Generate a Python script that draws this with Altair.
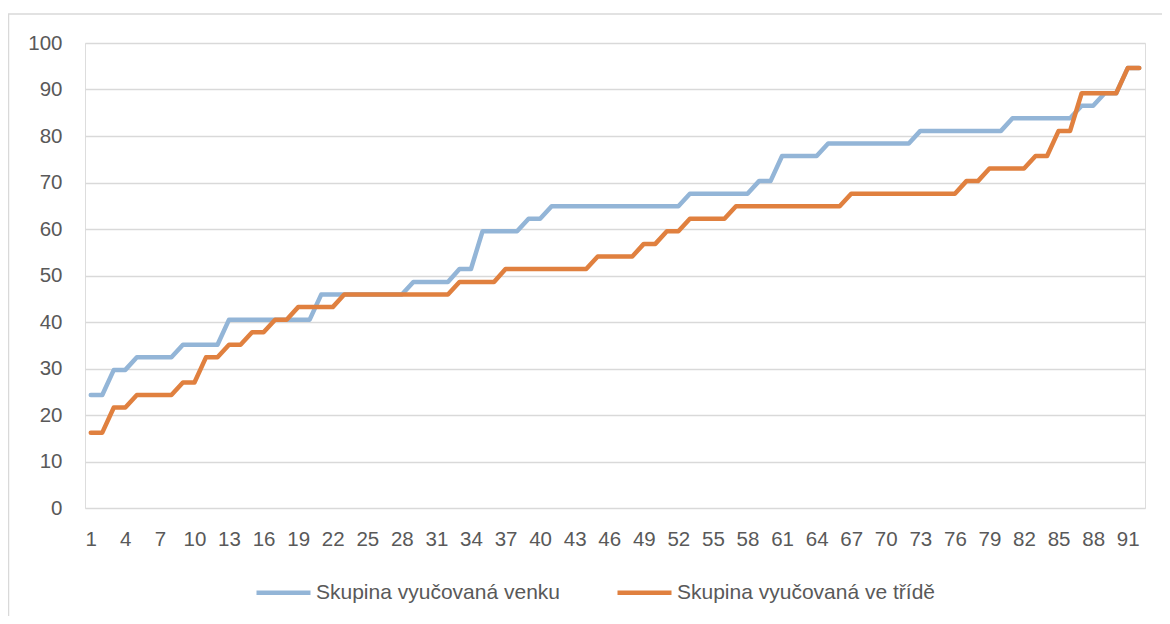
import altair as alt
import pandas as pd

categories = list(range(1, 93))
x_tick_labels = [1, 4, 7, 10, 13, 16, 19, 22, 25, 28, 31, 34, 37, 40, 43, 46,
                 49, 52, 55, 58, 61, 64, 67, 70, 73, 76, 79, 82, 85, 88, 91]
y_ticks = [0, 10, 20, 30, 40, 50, 60, 70, 80, 90, 100]

series_names = ["Skupina vyučovaná venku", "Skupina vyučovaná ve třídě"]
series_colors = ["#93B5D7", "#E0803F"]

venku = [
    24.3, 24.3, 29.7, 29.7, 32.4, 32.4, 32.4, 32.4, 35.1, 35.1,
    35.1, 35.1, 40.5, 40.5, 40.5, 40.5, 40.5, 40.5, 40.5, 40.5,
    45.9, 45.9, 45.9, 45.9, 45.9, 45.9, 45.9, 45.9, 48.6, 48.6,
    48.6, 48.6, 51.4, 51.4, 59.5, 59.5, 59.5, 59.5, 62.2, 62.2,
    64.9, 64.9, 64.9, 64.9, 64.9, 64.9, 64.9, 64.9, 64.9, 64.9,
    64.9, 64.9, 67.6, 67.6, 67.6, 67.6, 67.6, 67.6, 70.3, 70.3,
    75.7, 75.7, 75.7, 75.7, 78.4, 78.4, 78.4, 78.4, 78.4, 78.4,
    78.4, 78.4, 81.1, 81.1, 81.1, 81.1, 81.1, 81.1, 81.1, 81.1,
    83.8, 83.8, 83.8, 83.8, 83.8, 83.8, 86.5, 86.5, 89.2, 89.2,
    94.6, 94.6,
]

ve_tride = [
    16.2, 16.2, 21.6, 21.6, 24.3, 24.3, 24.3, 24.3, 27.0, 27.0,
    32.4, 32.4, 35.1, 35.1, 37.8, 37.8, 40.5, 40.5, 43.2, 43.2,
    43.2, 43.2, 45.9, 45.9, 45.9, 45.9, 45.9, 45.9, 45.9, 45.9,
    45.9, 45.9, 48.6, 48.6, 48.6, 48.6, 51.4, 51.4, 51.4, 51.4,
    51.4, 51.4, 51.4, 51.4, 54.1, 54.1, 54.1, 54.1, 56.8, 56.8,
    59.5, 59.5, 62.2, 62.2, 62.2, 62.2, 64.9, 64.9, 64.9, 64.9,
    64.9, 64.9, 64.9, 64.9, 64.9, 64.9, 67.6, 67.6, 67.6, 67.6,
    67.6, 67.6, 67.6, 67.6, 67.6, 67.6, 70.3, 70.3, 73.0, 73.0,
    73.0, 73.0, 75.7, 75.7, 81.1, 81.1, 89.2, 89.2, 89.2, 89.2,
    94.6, 94.6,
]

df = pd.DataFrame({
    "cat": categories * 2,
    "value": venku + ve_tride,
    "series": [series_names[0]] * len(categories) + [series_names[1]] * len(categories),
})

FONT = "Liberation Sans"
TXT = "#595959"
GRID = "#D9D9D9"

x_enc = alt.X(
    "cat:Q",
    scale=alt.Scale(domain=[0.5, 92.5], nice=False, zero=False),
    axis=alt.Axis(values=x_tick_labels, title=None, grid=False, domain=False,
                  ticks=False, labelOverlap=False, labelPadding=21,
                  labelFontSize=20.5, labelColor=TXT, labelFont=FONT),
)
y_enc = alt.Y(
    "value:Q",
    scale=alt.Scale(domain=[0, 100], nice=False),
    axis=alt.Axis(values=y_ticks, title=None, grid=True, gridColor=GRID,
                  gridWidth=1.6, domain=False, ticks=False, labelPadding=23,
                  labelFontSize=20.5, labelColor=TXT, labelFont=FONT),
)
color_enc = alt.Color(
    "series:N",
    scale=alt.Scale(domain=series_names, range=series_colors),
    legend=alt.Legend(title=None, orient="none", direction="horizontal",
                      legendX=169, legendY=520, symbolType="stroke",
                      symbolSize=2916, symbolStrokeWidth=4.5,
                      labelFontSize=21, labelColor=TXT, labelFont=FONT,
                      labelOffset=3, columnPadding=48, labelLimit=400),
)

base = alt.Chart(df)
line_out = base.transform_filter(alt.datum.series == series_names[0]).mark_line(
    strokeWidth=4.5, strokeCap="round", strokeJoin="round"
).encode(x=x_enc, y=y_enc, color=color_enc)
line_in = base.transform_filter(alt.datum.series == series_names[1]).mark_line(
    strokeWidth=4.5, strokeCap="round", strokeJoin="round"
).encode(x=x_enc, y=y_enc, color=color_enc)

frame = alt.Chart(pd.DataFrame({"f": [0]})).mark_rect(
    fillOpacity=0, stroke="#D9D9D9", strokeWidth=1.5
).encode(x=alt.value(-76.5), x2=alt.value(1300), y=alt.value(-29), y2=alt.value(800))

chart = alt.layer(frame, line_out, line_in).properties(
    width=1060,
    height=465,
    autosize=alt.AutoSizeParams(type="none"),
    padding={"left": 77, "top": 35, "right": 17, "bottom": 108},
).configure_view(strokeWidth=0).configure(background="white")

chart.save("out.html", embed_options={"renderer": "svg", "actions": False})
